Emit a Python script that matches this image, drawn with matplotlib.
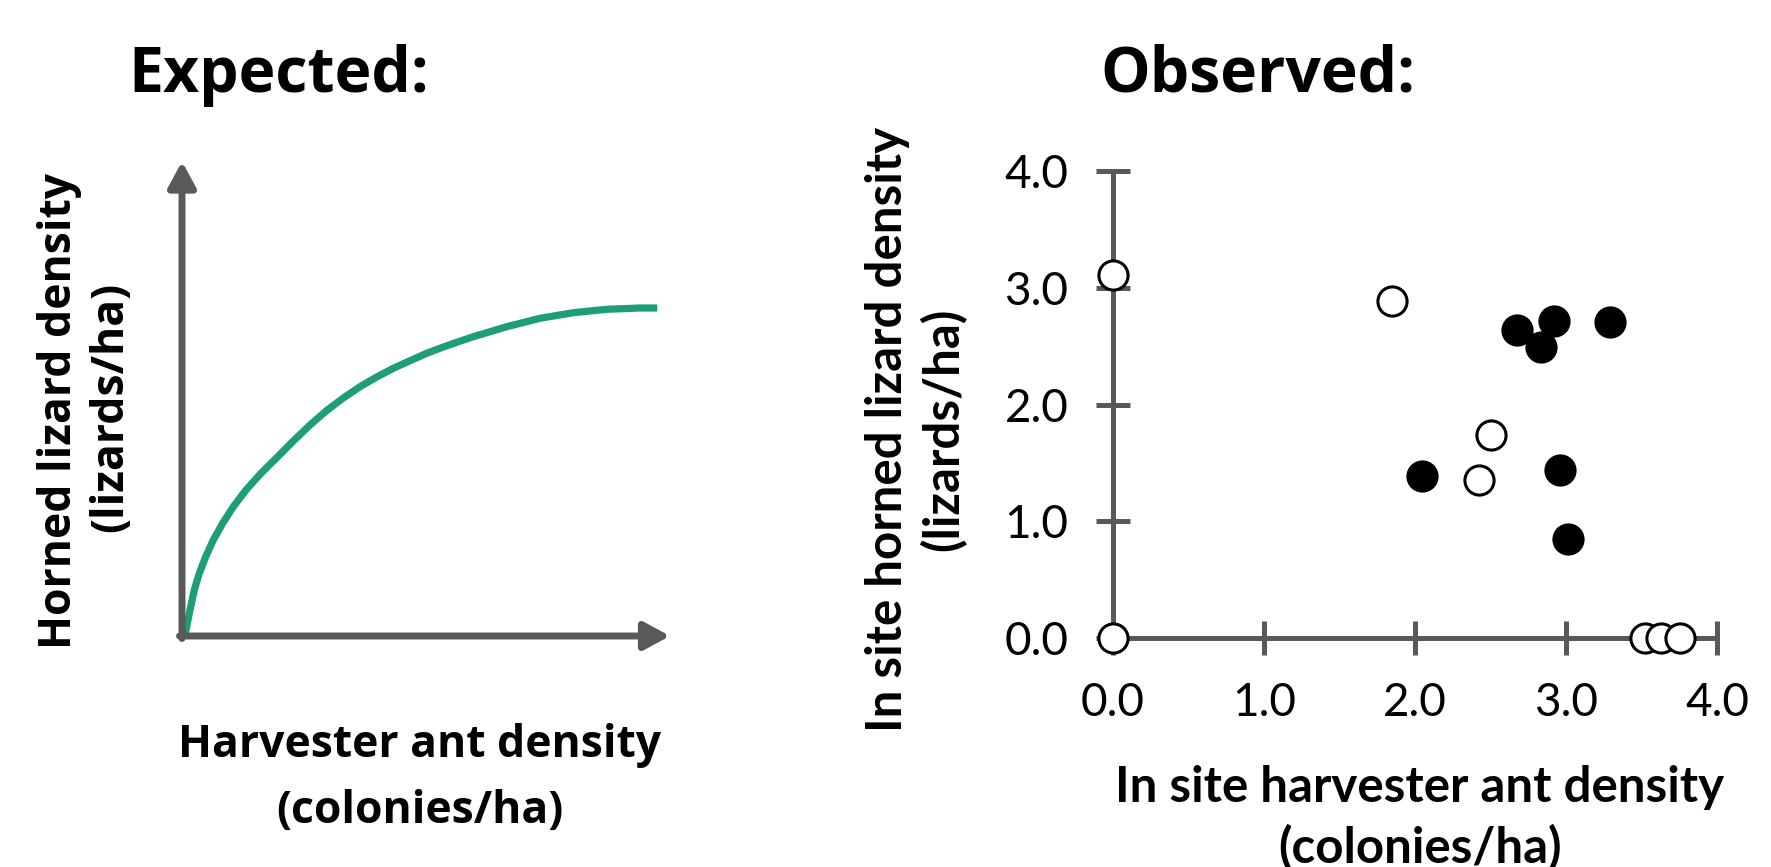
import matplotlib
matplotlib.use("Agg")
import matplotlib.pyplot as plt

# Curva esperada (unidades relativas al origen)
expected_x = [3.0, 5.3, 8.7, 12.3, 17.3, 23.7, 31.3, 40.7, 51.3, 64.0, 79.0, 95.7,
              111.3, 128.0, 144.7, 161.3, 178.0, 194.7, 211.3, 228.0, 244.7, 261.3,
              278.0, 291.3, 324.7, 358.0, 391.3, 424.7, 458.0, 475.3]
expected_y = [1.0, 12.7, 29.3, 46.0, 62.7, 79.3, 96.0, 112.7, 129.3, 146.0, 162.7, 179.3,
              195.0, 211.0, 225.5, 238.0, 249.3, 259.0, 267.7, 275.3, 282.7, 289.0,
              294.8, 299.3, 309.3, 317.7, 323.3, 326.7, 328.0, 328.0]

# Datos observados
open_x = [0.0, 1.845, 2.506, 2.426, 0.0, 3.523, 3.632, 3.753]
open_y = [3.11, 2.886, 1.737, 1.351, 0.0, 0.0, 0.0, 0.0]
filled_x = [2.677, 2.919, 2.833, 3.290, 2.049, 2.960, 3.016]
filled_y = [2.643, 2.717, 2.491, 2.709, 1.386, 1.443, 0.851]
ticks = [0.0, 1.0, 2.0, 3.0, 4.0]
tick_labels = ["0.0", "1.0", "2.0", "3.0", "4.0"]

W, H = 1771, 867
gris = "#595959"
verde = "#1e9e78"

fig = plt.figure(figsize=(W / 100, H / 100), dpi=100)


def fx(px):
    return px / W


def fy(py):
    return 1 - py / H


# ---- Panel izquierdo (esperado) ----
axl = fig.add_axes([fx(182), fy(636), fx(488), 474.5 / H])
axl.set_xlim(0, 488)
axl.set_ylim(0, 474.5)
axl.axis("off")
flecha = dict(arrowstyle="-|>,head_length=0.7,head_width=0.38", lw=5, color=gris,
              shrinkA=0, shrinkB=0, mutation_scale=22)
axl.annotate("", xy=(488, 0), xytext=(-2.5, 0), arrowprops=flecha, annotation_clip=False)
axl.annotate("", xy=(0, 474.5), xytext=(0, -2.5), arrowprops=flecha, annotation_clip=False)
axl.plot(expected_x, expected_y, color=verde, lw=5.2, solid_capstyle="butt",
         solid_joinstyle="round", clip_on=False)

fig.text(fx(128), fy(92), "Expected:", fontsize=45, fontweight="bold", family="Open Sans",
         ha="left", va="baseline")
fig.text(fx(420), fy(745), "Harvester ant density", fontsize=32, fontweight="bold",
         family="Open Sans", ha="center", va="center")
fig.text(fx(420), fy(811), "(colonies/ha)", fontsize=32, fontweight="bold",
         family="Open Sans", ha="center", va="center")
fig.text(fx(59), fy(411), "Horned lizard density", fontsize=32, fontweight="bold",
         family="Open Sans", ha="center", va="center", rotation=90)
fig.text(fx(111), fy(407), "(lizards/ha)", fontsize=32, fontweight="bold",
         family="Open Sans", ha="center", va="center", rotation=90)

# ---- Panel derecho (observado) ----
axr = fig.add_axes([fx(1113), fy(638), 604 / W, 466.7 / H])
axr.set_xlim(0, 4)
axr.set_ylim(0, 4)
for lado in ["top", "right"]:
    axr.spines[lado].set_visible(False)
for lado in ["left", "bottom"]:
    axr.spines[lado].set_color(gris)
    axr.spines[lado].set_linewidth(3.6)
axr.set_xticks(ticks)
axr.set_xticklabels(tick_labels)
axr.set_yticks(ticks)
axr.set_yticklabels(tick_labels)
axr.tick_params(direction="inout", length=24, width=3.6, color=gris, labelsize=33,
                pad=20)
for t in axr.get_xticklabels() + axr.get_yticklabels():
    t.set_family("Lato")

axr.plot(filled_x, filled_y, "o", ms=21, mfc="black", mec="black", mew=2.2,
         clip_on=False, zorder=5)
axr.plot(open_x, open_y, "o", ms=21, mfc="white", mec="black", mew=2.2,
         clip_on=False, zorder=6)

fig.text(fx(1100), fy(92), "Observed:", fontsize=45, fontweight="bold", family="Open Sans",
         ha="left", va="baseline")
fig.text(fx(1420), fy(788), "In site harvester ant density", fontsize=35.5,
         fontweight="bold", family="Lato", ha="center", va="center")
fig.text(fx(1420), fy(848), "(colonies/ha)", fontsize=35.5,
         fontweight="bold", family="Lato", ha="center", va="center")
fig.text(fx(887), fy(429), "In site horned lizard density", fontsize=35.5,
         fontweight="bold", family="Lato", ha="center", va="center", rotation=90)
fig.text(fx(943), fy(429), "(lizards/ha)", fontsize=35.5,
         fontweight="bold", family="Lato", ha="center", va="center", rotation=90)

fig.savefig("out.png", dpi=100)
